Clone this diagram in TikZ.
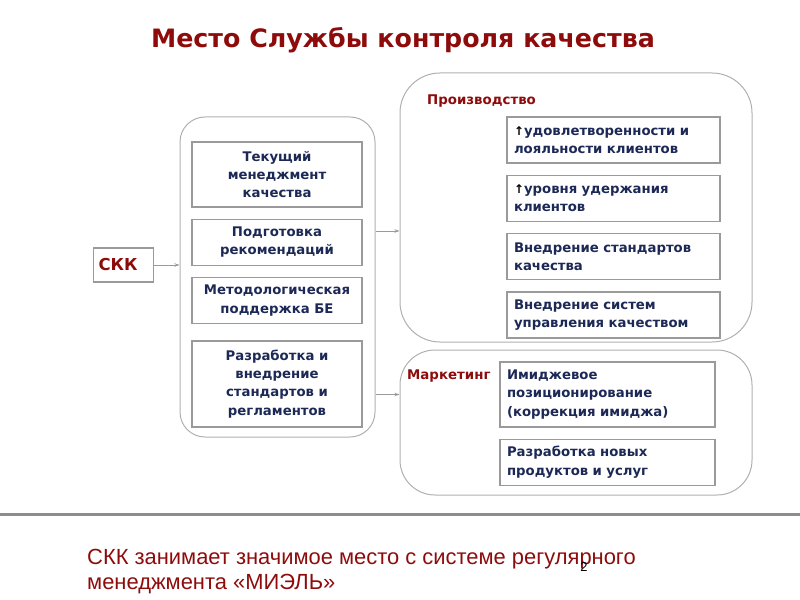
\documentclass[tikz,border=0pt]{standalone}
\usepackage{fontspec}
\setmainfont{DejaVu Sans}
\newfontfamily\notefont{Liberation Sans}
\usetikzlibrary{arrows.meta, positioning}
\definecolor{ckkred}{HTML}{8E0B0B}
\definecolor{boxtext}{HTML}{1C2855}
\definecolor{framegray}{HTML}{B0B0B0}
\definecolor{itemgray}{HTML}{9A9A9A}

\begin{document}
\begin{tikzpicture}[
    x=1bp, y=-1bp,
    container/.style={rectangle, draw=framegray, line width=1bp, rounded corners=#1},
    container/.default=25bp,
    item/.style={rectangle, draw=itemgray, line width=1.3bp, minimum width=170bp, inner sep=6bp, align=center, text=boxtext, font=\bfseries\fontsize{13.3}{18.5}\selectfont},
    ritem/.style={item, minimum width=213bp, text width=199bp, align=left},
    tag/.style={font=\bfseries\fontsize{13.4}{15}\selectfont, text=ckkred, inner sep=0pt},
    arrow/.style={-{Stealth[length=5bp, width=3.5bp]}, draw=itemgray, line width=0.8bp},
    node distance=11bp
]
    \useasboundingbox (0,0) rectangle (800,600);

    \node[font=\bfseries\fontsize{25.4}{30}\selectfont, text=ckkred] (title) at (403,40) {Место Службы контроля качества};

    % СКК
    \node[rectangle, draw=itemgray, line width=1.3bp, minimum height=34bp, text width=50bp, align=left, text=ckkred, font=\bfseries\fontsize{16.5}{19}\selectfont, anchor=west, inner sep=5bp] (ckk) at (93,265) {СКК};

    % functions of the service
    \node[container, minimum width=195bp, minimum height=320bp] (block) at (277.5,277) {};
    \node[item, minimum height=65bp] (tek) at (277,174.5) {Текущий\\менеджмент\\качества};
    \node[item, minimum height=46bp, below=of tek] (podg) {Подготовка\\рекомендаций};
    \node[item, minimum height=46bp, below=of podg] (metod) {Методологическая\\поддержка БЕ};
    \node[item, minimum height=86bp, below=16bp of metod] (razr) {Разработка и\\внедрение\\стандартов и\\регламентов};

    % production
    \node[container=40bp, minimum width=352bp, minimum height=269bp] (prod) at (576,207.5) {};
    \node[tag, anchor=west] (prodlabel) at (427,101) {Производство};
    \node[ritem, minimum height=46bp] (udovl) at (613.5,140) {{\color{black}\fontsize{12}{12}\selectfont↑}удовлетворенности и лояльности клиентов};
    \node[ritem, minimum height=46bp, below=of udovl] (uderzh) {{\color{black}\fontsize{12}{12}\selectfont↑}уровня удержания клиентов};
    \node[ritem, minimum height=46bp, below=of uderzh] (standart) {Внедрение стандартов качества};
    \node[ritem, minimum height=46bp, below=of standart] (sistem) {Внедрение систем управления качеством};

    % marketing
    \node[container=35bp, minimum width=352bp, minimum height=145bp] (mark) at (576,422.5) {};
    \node[tag, anchor=west] (marklabel) at (407,376) {Маркетинг};
    \node[ritem, minimum width=215bp, text width=201bp, minimum height=65bp] (imidzh) at (607.5,394.5) {Имиджевое\\позиционирование\\(коррекция имиджа)};
    \node[ritem, minimum width=215bp, text width=201bp, minimum height=46bp, below=of imidzh] (novye) {Разработка новых\\продуктов и услуг};

    \draw[arrow] (ckk.east) -- (ckk.east -| block.west);
    \draw[arrow] (block.east |- 0,231) -- (prod.west |- 0,231);
    \draw[arrow] (imidzh.west -| block.east) -- (imidzh.west -| mark.west);

    \draw[framegray!80!black, line width=3bp] (0,514) -- (800,514);

    \node[anchor=base west, align=left, text=ckkred, inner sep=0pt, font=\notefont\fontsize{22}{25}\selectfont] (note) at (87,589) {СКК занимает значимое место с системе регулярного\\менеджмента «МИЭЛЬ»};
    \node[font=\notefont\fontsize{13}{15}\selectfont, inner sep=0pt] (page) at (584,567) {2};
\end{tikzpicture}
\end{document}
